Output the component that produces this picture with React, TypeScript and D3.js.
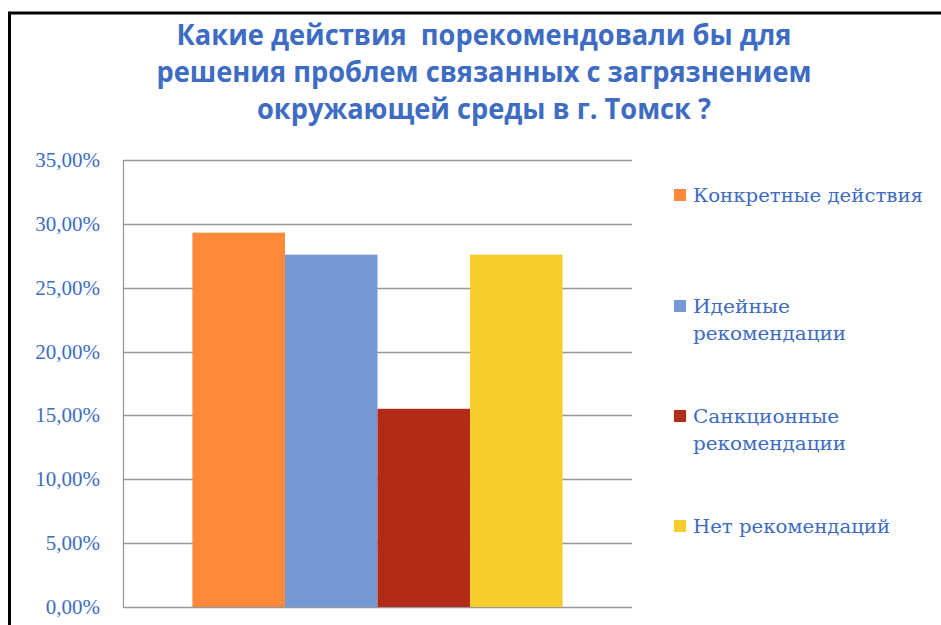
import React, { useLayoutEffect } from "react";
import * as d3 from "d3";

const categories = ["г. Томск"];
const seriesNames = [
  "Конкретные действия",
  "Идейные рекомендации",
  "Санкционные рекомендации",
  "Нет рекомендаций",
];
const seriesValues = [0.2931, 0.2759, 0.1552, 0.2759];
const seriesColors = ["#FF8939", "#7699D6", "#B22B17", "#F5CD2D"];
const legendLines = [
  ["Конкретные действия"],
  ["Идейные", "рекомендации"],
  ["Санкционные", "рекомендации"],
  ["Нет рекомендаций"],
];
const legendWidths = [[230], [97, 153], [146, 153], [197]];
const tickValues = [0, 0.05, 0.1, 0.15, 0.2, 0.25, 0.3, 0.35];
const titleLines = [
  "Какие действия  порекомендовали бы для",
  "решения проблем связанных с загрязнением",
  "окружающей среды в г. Томск ?",
];
const titleWidths = [615, 655, 454];

const W = 941;
const H = 625;
const plot = { left: 123, right: 632, top: 160, bottom: 607 };
const textBlue = "#3D6CC2";

export default function App() {
  useLayoutEffect(() => {
    document.body.style.margin = "0";
  }, []);

  const y = d3.scaleLinear().domain([0, 0.35]).range([plot.bottom, plot.top]);
  const gap = 1.5 / 5.5;
  const x0 = d3
    .scaleBand<string>()
    .domain(categories)
    .range([plot.left, plot.right])
    .paddingInner(gap)
    .paddingOuter(gap / 2);
  const x1 = d3
    .scaleBand<string>()
    .domain(seriesNames)
    .range([0, x0.bandwidth()])
    .padding(0);

  const fmt = (v: number) => d3.format(".2f")(v * 100).replace(".", ",") + "%";

  const legendY = [195, 306, 416, 526];

  return (
    <svg width={W} height={H} style={{ display: "block", background: "#fff" }}>
      <rect x={9.5} y={13} width={1200} height={1200} fill="none" stroke="#000" strokeWidth={3} />
      {titleLines.map((t, i) => (
        <text
          key={i}
          x={484}
          y={45 + i * 37}
          textAnchor="middle"
          fontFamily="'Liberation Sans Narrow', 'Open Sans', sans-serif"
          fontWeight="bold"
          fontSize={29}
          fill={textBlue}
          textLength={titleWidths[i]}
          lengthAdjust="spacingAndGlyphs"
          style={{ whiteSpace: "pre" }}
        >
          {t}
        </text>
      ))}
      {tickValues.map((v) => (
        <g key={v}>
          <line
            x1={plot.left}
            x2={plot.right}
            y1={Math.round(y(v)) + 0.5}
            y2={Math.round(y(v)) + 0.5}
            stroke="#999"
            strokeWidth={1.3}
          />
          <text
            x={100}
            y={y(v) + 7}
            textAnchor="end"
            fontFamily="'Liberation Serif', serif"
            fontSize={21}
            fill={textBlue}
          >
            {fmt(v)}
          </text>
        </g>
      ))}
      <line x1={plot.left + 0.5} x2={plot.left + 0.5} y1={plot.top} y2={plot.bottom} stroke="#999" strokeWidth={1.3} />
      {categories.map((c) =>
        seriesNames.map((s, i) => (
          <rect
            key={c + s}
            x={(x0(c) ?? 0) + (x1(s) ?? 0)}
            y={y(seriesValues[i])}
            width={x1.bandwidth()}
            height={plot.bottom - y(seriesValues[i])}
            fill={seriesColors[i]}
          />
        ))
      )}
      {legendLines.map((lines, i) => (
        <g key={i}>
          <rect x={674} y={legendY[i] - 6} width={12} height={12} fill={seriesColors[i]} />
          {lines.map((ln, j) => (
            <text
              key={j}
              x={693}
              y={legendY[i] + 7 + j * 27}
              fontFamily="'DejaVu Serif', serif"
              fontSize={18}
              fill={textBlue}
              textLength={legendWidths[i][j]}
              lengthAdjust="spacingAndGlyphs"
            >
              {ln}
            </text>
          ))}
        </g>
      ))}
    </svg>
  );
}
